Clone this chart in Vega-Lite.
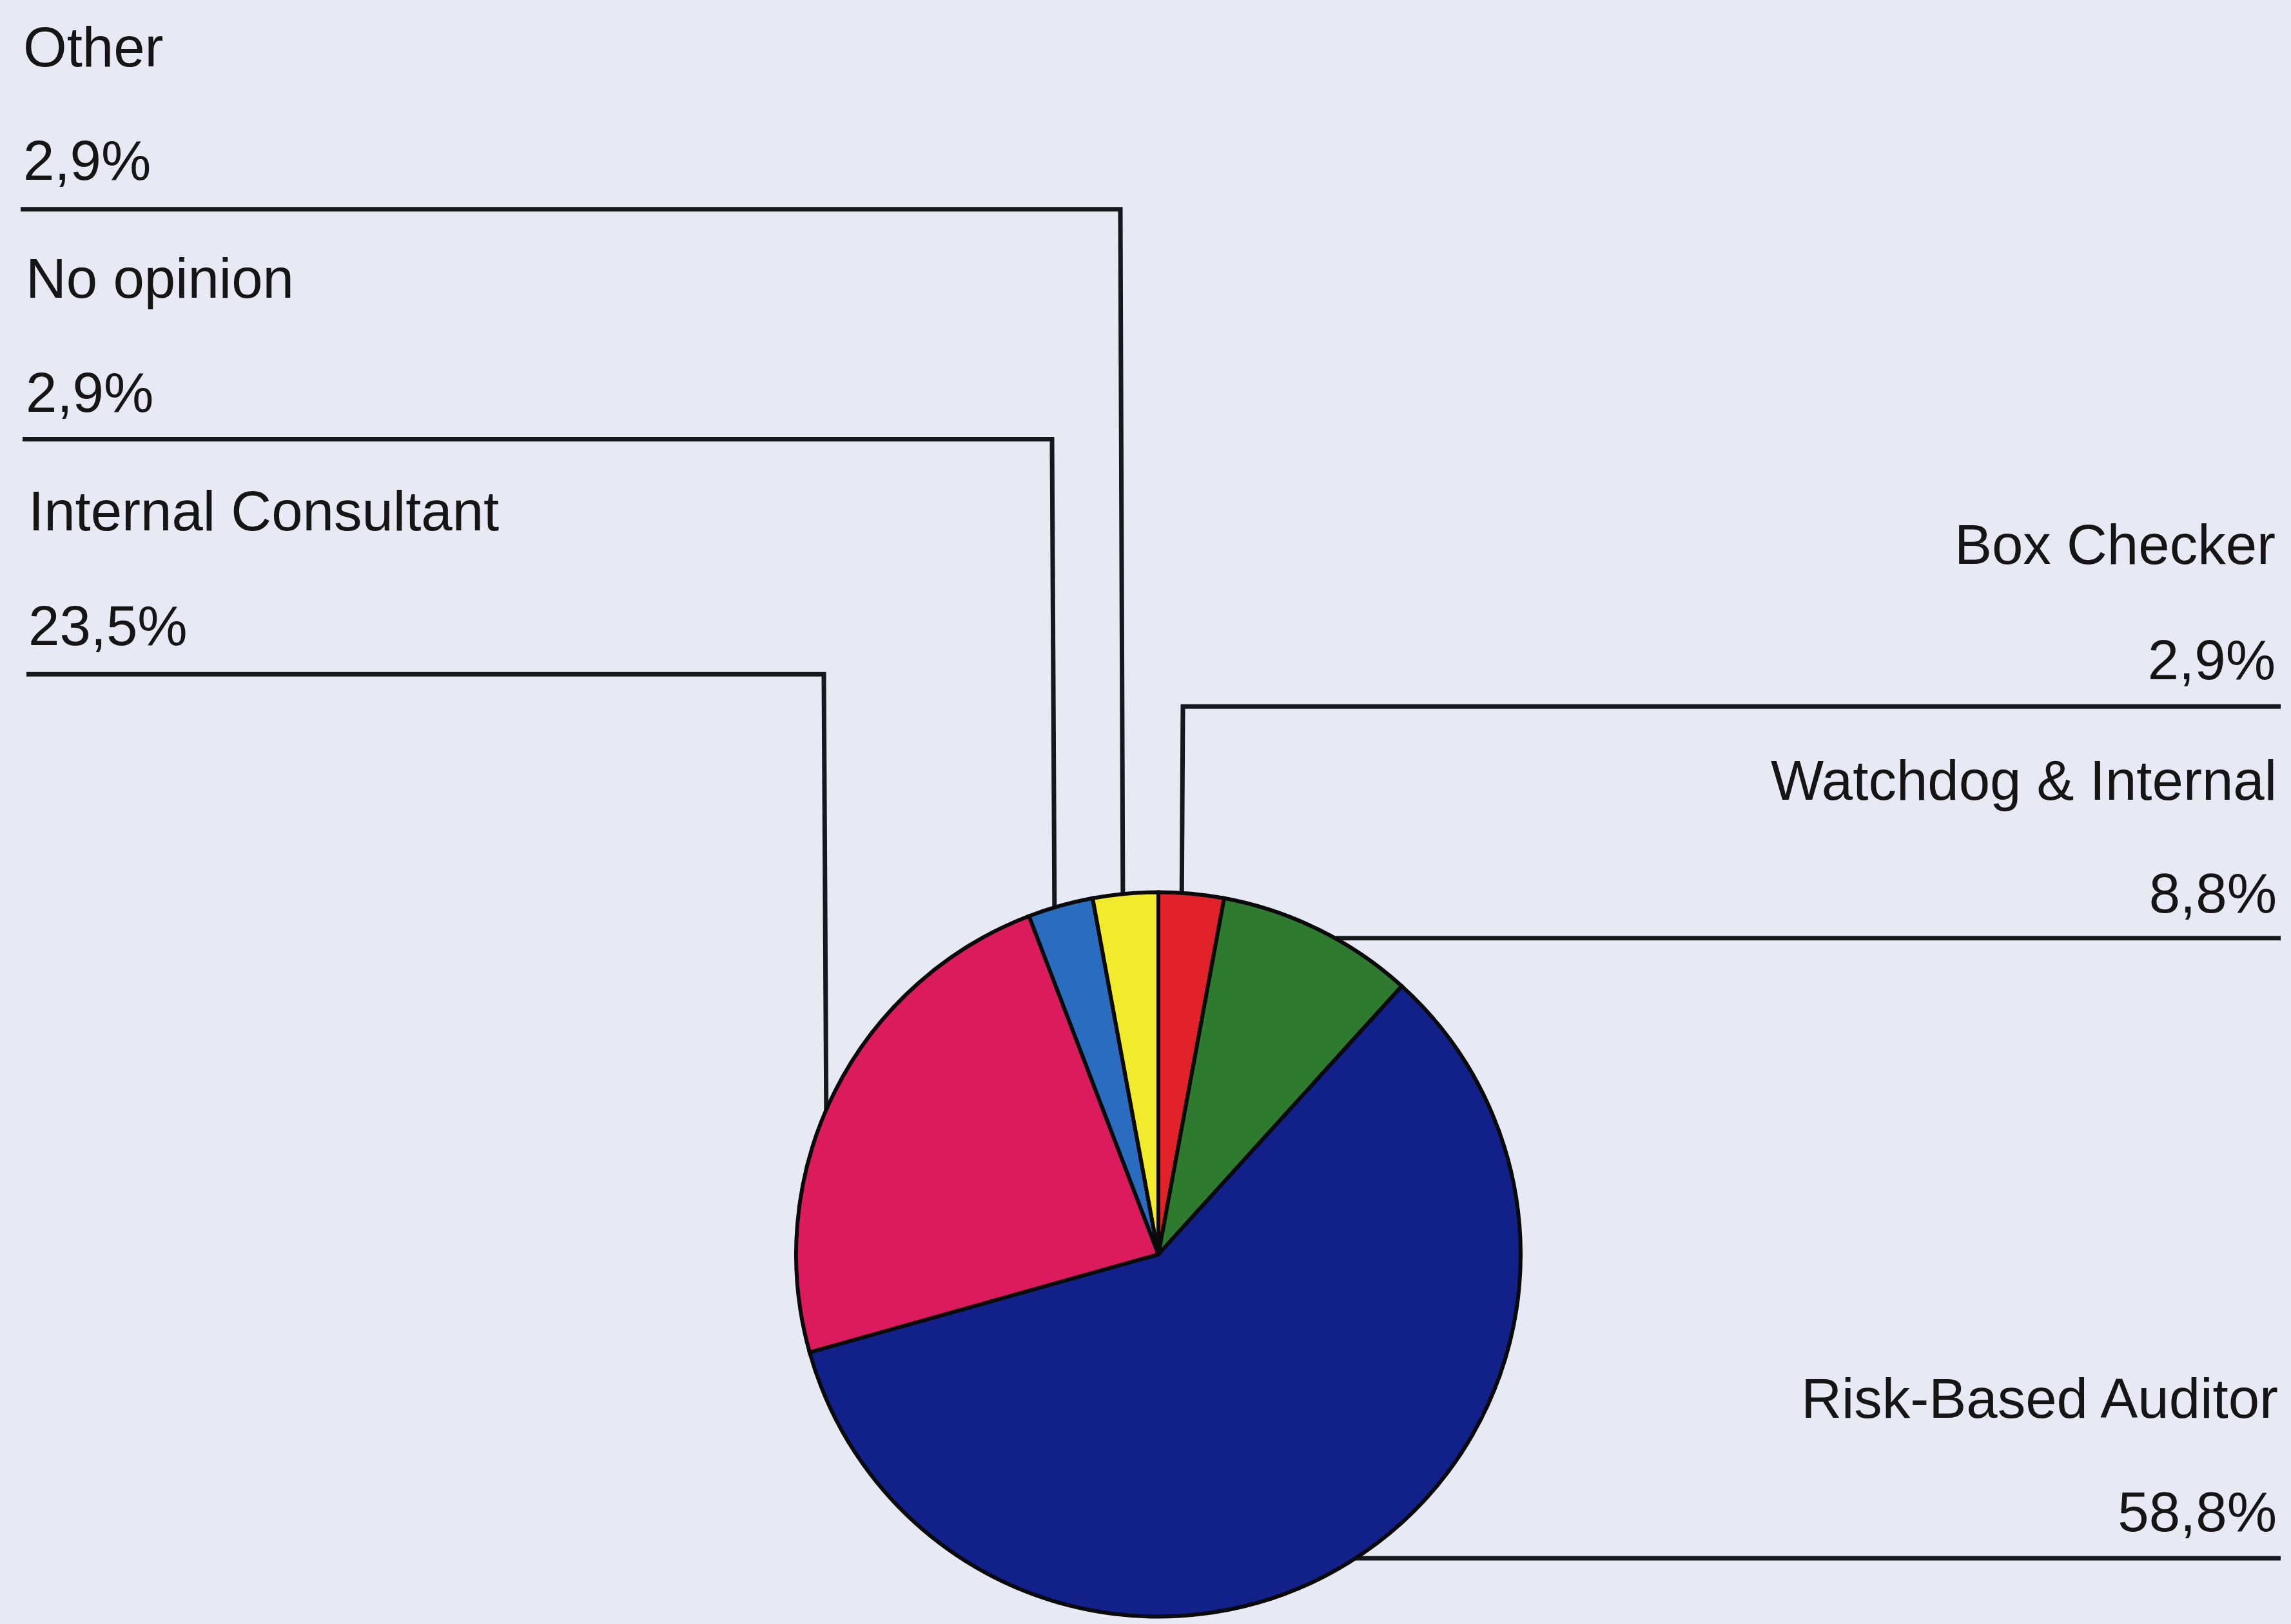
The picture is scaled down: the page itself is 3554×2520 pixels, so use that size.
{
  "$schema": "https://vega.github.io/schema/vega-lite/v6.json",
  "width": 3554,
  "height": 2520,
  "autosize": {"type": "fit", "contains": "padding"},
  "padding": 0,
  "background": "#e7e9f5",
  "config": {"view": {"stroke": null}},
  "datasets": {
    "slices": [
      {"category": "Box Checker", "value": 2.9, "ord": 1},
      {"category": "Watchdog & Internal", "value": 8.8, "ord": 2},
      {"category": "Risk-Based Auditor", "value": 58.8, "ord": 3},
      {"category": "Internal Consultant", "value": 23.5, "ord": 4},
      {"category": "No opinion", "value": 2.9, "ord": 5},
      {"category": "Other", "value": 2.9, "ord": 6}
    ],
    "leaders": [
      {"label": "Other", "pt": 1, "x": 32, "y": 325},
      {"label": "Other", "pt": 2, "x": 1738, "y": 325},
      {"label": "Other", "pt": 3, "x": 1742, "y": 1420},
      {"label": "No opinion", "pt": 1, "x": 35, "y": 682},
      {"label": "No opinion", "pt": 2, "x": 1632, "y": 682},
      {"label": "No opinion", "pt": 3, "x": 1636, "y": 1440},
      {"label": "Internal Consultant", "pt": 1, "x": 41, "y": 1047},
      {"label": "Internal Consultant", "pt": 2, "x": 1278, "y": 1047},
      {"label": "Internal Consultant", "pt": 3, "x": 1282, "y": 1760},
      {"label": "Box Checker", "pt": 1, "x": 3538, "y": 1097},
      {"label": "Box Checker", "pt": 2, "x": 1835, "y": 1097},
      {"label": "Box Checker", "pt": 3, "x": 1833, "y": 1430},
      {"label": "Watchdog & Internal", "pt": 1, "x": 3538, "y": 1457},
      {"label": "Watchdog & Internal", "pt": 2, "x": 2030, "y": 1457},
      {"label": "Risk-Based Auditor", "pt": 1, "x": 3538, "y": 2420},
      {"label": "Risk-Based Auditor", "pt": 2, "x": 2080, "y": 2420}
    ],
    "labels": [
      {"text": "Other", "side": "left", "x": 36, "y": 103},
      {"text": "2,9%", "side": "left", "x": 36, "y": 279},
      {"text": "No opinion", "side": "left", "x": 40, "y": 462},
      {"text": "2,9%", "side": "left", "x": 40, "y": 640},
      {"text": "Internal Consultant", "side": "left", "x": 44, "y": 824},
      {"text": "23,5%", "side": "left", "x": 44, "y": 1002},
      {"text": "Box Checker", "side": "right", "x": 3530, "y": 876},
      {"text": "2,9%", "side": "right", "x": 3530, "y": 1055},
      {"text": "Watchdog & Internal", "side": "right", "x": 3532, "y": 1242},
      {"text": "8,8%", "side": "right", "x": 3532, "y": 1417},
      {"text": "Risk-Based Auditor", "side": "right", "x": 3534, "y": 2202},
      {"text": "58,8%", "side": "right", "x": 3532, "y": 2378}
    ]
  },
  "layer": [
    {
      "data": {"name": "leaders"},
      "mark": {"type": "line", "color": "#15181c", "strokeWidth": 7, "strokeJoin": "miter"},
      "encoding": {
        "x": {"field": "x", "type": "quantitative", "scale": {"domain": [0, 3554], "nice": false, "zero": false}, "axis": null},
        "y": {"field": "y", "type": "quantitative", "scale": {"domain": [0, 2520], "nice": false, "zero": false, "reverse": true}, "axis": null},
        "detail": {"field": "label"},
        "order": {"field": "pt", "type": "quantitative"}
      }
    },
    {
      "data": {"name": "slices"},
      "mark": {"type": "arc", "outerRadius": 562, "stroke": "#0a0a0a", "strokeWidth": 6},
      "encoding": {
        "theta": {"field": "value", "type": "quantitative", "stack": true},
        "order": {"field": "ord", "type": "quantitative"},
        "color": {
          "field": "category",
          "type": "nominal",
          "legend": null,
          "scale": {
            "domain": ["Box Checker", "Watchdog & Internal", "Risk-Based Auditor", "Internal Consultant", "No opinion", "Other"],
            "range": ["#e2222b", "#2e7b30", "#12208a", "#db1b5e", "#2a6cc0", "#f2ea2c"]
          }
        },
        "x": {"datum": 1797, "type": "quantitative"},
        "y": {"datum": 1948, "type": "quantitative"}
      }
    },
    {
      "data": {"name": "labels"},
      "transform": [{"filter": "datum.side === 'left'"}],
      "mark": {"type": "text", "align": "left", "baseline": "alphabetic", "font": "Liberation Sans", "fontSize": 87, "color": "#151515"},
      "encoding": {
        "x": {"field": "x", "type": "quantitative"},
        "y": {"field": "y", "type": "quantitative"},
        "text": {"field": "text"}
      }
    },
    {
      "data": {"name": "labels"},
      "transform": [{"filter": "datum.side === 'right'"}],
      "mark": {"type": "text", "align": "right", "baseline": "alphabetic", "font": "Liberation Sans", "fontSize": 87, "color": "#151515"},
      "encoding": {
        "x": {"field": "x", "type": "quantitative"},
        "y": {"field": "y", "type": "quantitative"},
        "text": {"field": "text"}
      }
    }
  ]
}
